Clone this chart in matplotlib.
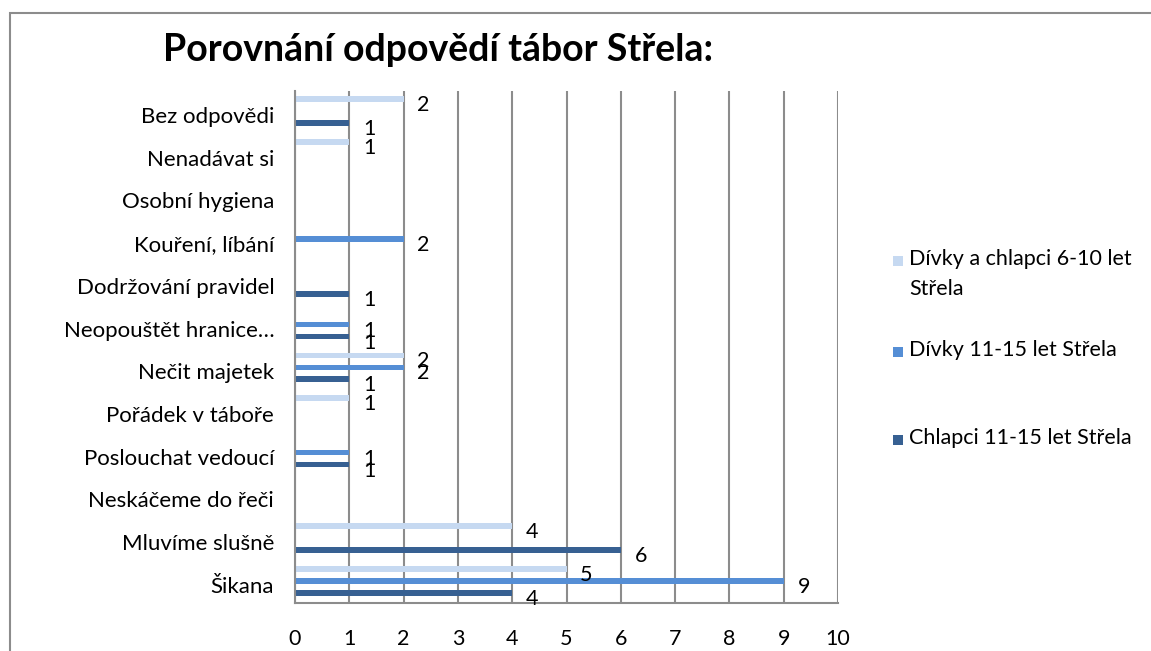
import matplotlib
matplotlib.use("Agg")
import matplotlib.pyplot as plt
import matplotlib.transforms as mtransforms
from matplotlib.patches import Rectangle
import numpy as np

plt.rcParams['font.family'] = ['Lato', 'DejaVu Sans']

categories = ["Šikana", "Mluvíme slušně", "Neskáčeme do řeči", "Poslouchat vedoucí",
              "Pořádek v táboře", "Nečit majetek", "Neopouštět hranice…",
              "Dodržování pravidel", "Kouření, líbání", "Osobní hygiena",
              "Nenadávat si", "Bez odpovědi"]
chlapci_11_15 = [4, 6, None, 1, None, 1, 1, 1, None, None, None, 1]
divky_11_15 = [9, None, None, 1, None, 2, 1, None, 2, None, None, None]
deti_6_10 = [5, 4, None, None, 1, 2, None, None, None, None, 1, 2]
series_names = ["Chlapci 11-15 let Střela", "Dívky 11-15 let Střela",
                "Dívky a chlapci 6-10 let\nStřela"]
x_ticks = list(range(0, 11))
title = "Porovnání odpovědí tábor Střela:"

colors = ["#376092", "#558ED5", "#C6D9F1"]
FS = 15.5

W, H = 1151, 651
fig = plt.figure(figsize=(W / 100, H / 100), dpi=100)
fig.patch.set_facecolor("white")

# outer border
fig.patches.append(Rectangle((9.5 / W, -0.1), (W - 9.5) / W + 0.1, 1.1 - 12.5 / H,
                             transform=fig.transFigure, fill=False,
                             edgecolor="#8C8C8C", linewidth=1.5))

ax = fig.add_axes([295 / W, 1 - 603 / H, (838 - 295) / W, (603 - 91) / H])

y = np.arange(len(categories))
offsets = [-0.28, 0.0, 0.28]
bar_h = 0.13
for vals, off, col in zip([chlapci_11_15, divky_11_15, deti_6_10], offsets, colors):
    v = np.array([np.nan if a is None else a for a in vals], dtype=float)
    ax.barh(y + off, np.nan_to_num(v), height=bar_h, color=col, zorder=3)
    for yi, vi in zip(y, v):
        if not np.isnan(vi):
            ax.annotate(f"{int(vi)}", (vi, yi + off), xytext=(20, -6),
                        textcoords="offset pixels", ha="center", va="center",
                        fontsize=FS, color="black", zorder=4)

ax.set_xlim(0, 10)
ax.set_ylim(-0.52, 11.47)
ax.set_xticks(x_ticks)
ax.set_xticklabels([str(t) for t in x_ticks], fontsize=FS)
ax.set_yticks(y)
ax.set_yticklabels(categories, fontsize=16)
ax.tick_params(axis="both", length=0)
ax.tick_params(axis="x", pad=19)
ax.tick_params(axis="y", pad=15)
for lab in ax.get_yticklabels():
    lab.set_transform(lab.get_transform() + mtransforms.ScaledTranslation(0, -4 / 100, fig.dpi_scale_trans))

ax.grid(axis="x", color="#8C8C8C", linewidth=1.5, zorder=0)
for s in ["top", "right"]:
    ax.spines[s].set_visible(False)
ax.spines["left"].set_color("#8C8C8C")
ax.spines["bottom"].set_color("#8C8C8C")
ax.spines["left"].set_linewidth(1.5)
ax.spines["bottom"].set_linewidth(1.5)
ax.spines["left"].set_zorder(5)

fig.text(163 / W, 1 - 50 / H, title, fontsize=27, fontweight="bold", ha="left", va="center")

# legend (top to bottom: light, medium, dark)
leg_items = [(colors[2], series_names[2], 261), (colors[1], series_names[1], 352),
             (colors[0], series_names[0], 440)]
for col, name, yy in leg_items:
    fig.patches.append(Rectangle((893 / W, 1 - (yy + 5) / H), 10 / W, 10 / H,
                                 transform=fig.transFigure, facecolor=col, edgecolor="none"))
    fig.text(909 / W, 1 - (yy - 12) / H, name, fontsize=FS, ha="left", va="top",
             linespacing=1.6)

fig.savefig("out.png", dpi=100)
